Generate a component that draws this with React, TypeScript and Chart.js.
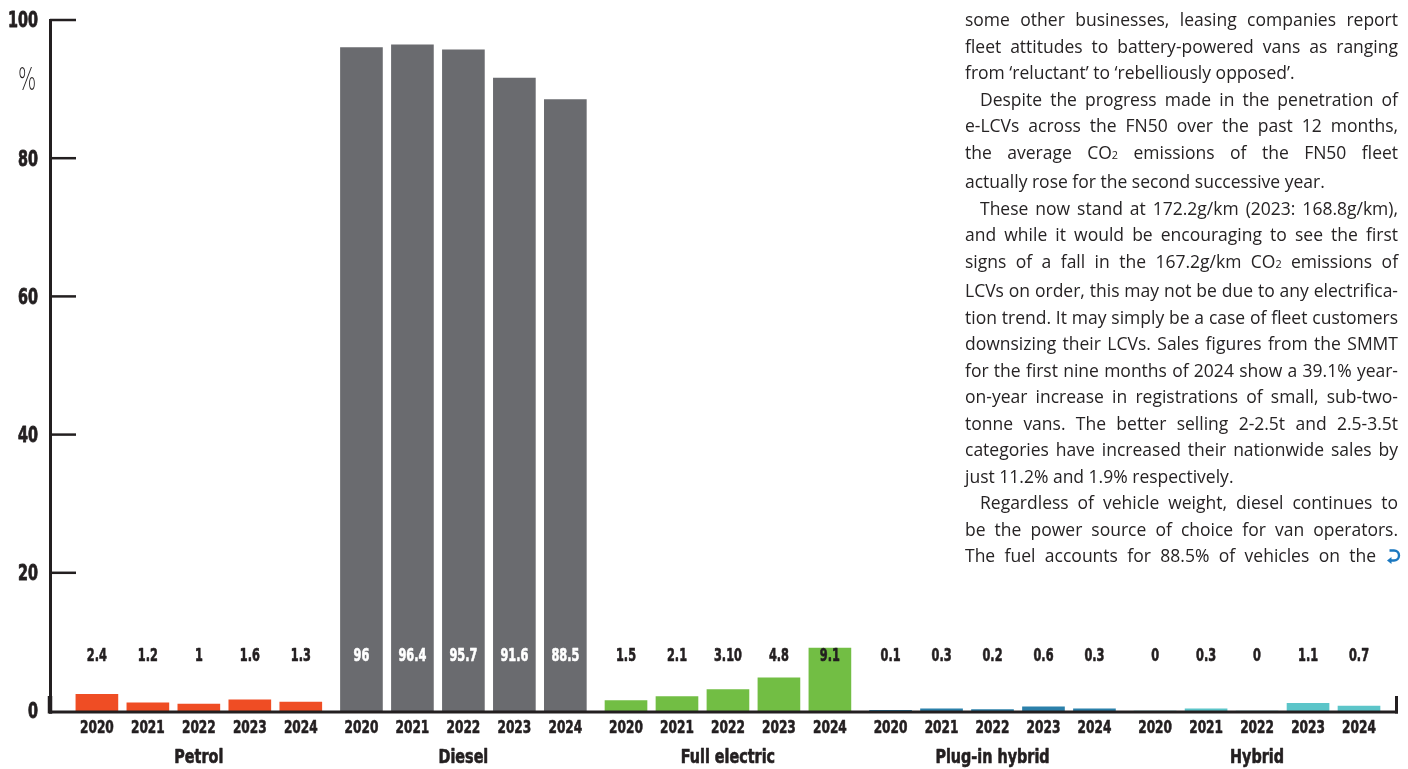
import React, { useEffect, useMemo, useRef } from "react";
import { Chart, registerables } from "chart.js";

Chart.register(...registerables);

// ---- data ----
const years = ["2020", "2021", "2022", "2023", "2024"];
const fuelTypes = ["Petrol", "Diesel", "Full electric", "Plug-in hybrid", "Hybrid"];
const petrolLabels = ["2.4", "1.2", "1", "1.6", "1.3"];
const dieselLabels = ["96", "96.4", "95.7", "91.6", "88.5"];
const fullElectricLabels = ["1.5", "2.1", "3.10", "4.8", "9.1"];
const plugInHybridLabels = ["0.1", "0.3", "0.2", "0.6", "0.3"];
const hybridLabels = ["0", "0.3", "0", "1.1", "0.7"];
const yTicks = [0, 20, 40, 60, 80, 100];

const valueLabels = [petrolLabels, dieselLabels, fullElectricLabels, plugInHybridLabels, hybridLabels];
const fuelColours = ["#ef4d24", "#6a6b6f", "#72be44", "#2b80aa", "#5cc5c9"];

// ---- layout constants ----
const INK = "#231f20";
const COND = '"DejaVu Sans Condensed", "DejaVu Sans", sans-serif';
const GROUP_STEP = 5.19; // slot distance between the first bars of neighbouring groups
const X_MIN = -0.92;
const X_MAX = 4 * GROUP_STEP + 4 + 0.765;

const slot = (g: number, i: number) => g * GROUP_STEP + i;
const barSlots = fuelTypes.flatMap((_, g) => years.map((__, i) => slot(g, i)));
const groupCentres = fuelTypes.map((_, g) => slot(g, 2));

// draws narrow headline-style text by squeezing the glyphs horizontally
function squeezed(
  ctx: CanvasRenderingContext2D,
  text: string,
  x: number,
  y: number,
  font: string,
  sx: number,
  align: CanvasTextAlign,
  colour: string,
  weight = 0.6
) {
  ctx.save();
  ctx.font = font;
  ctx.fillStyle = colour;
  ctx.strokeStyle = colour;
  ctx.lineWidth = weight;
  ctx.lineJoin = "round";
  ctx.textAlign = align;
  ctx.textBaseline = "middle";
  ctx.translate(x, y);
  ctx.scale(sx, 1);
  ctx.fillText(text, 0, 0);
  if (weight > 0) ctx.strokeText(text, 0, 0);
  ctx.restore();
}

const decorations = {
  id: "decorations",
  afterDatasetsDraw(chart: any) {
    const { ctx, chartArea, scales } = chart;
    const { left, right, top, bottom } = chartArea;
    const y = scales.y;
    const x = scales.x;
    ctx.save();
    ctx.strokeStyle = INK;
    ctx.lineCap = "butt";

    // vertical axis
    ctx.lineWidth = 3;
    ctx.beginPath();
    ctx.moveTo(left + 0.5, top - 1);
    ctx.lineTo(left + 0.5, bottom + 2.5);
    ctx.stroke();

    // inward tick marks
    ctx.lineWidth = 2.5;
    y.ticks.forEach((t: any) => {
      if (t.value === 0) return;
      const py = y.getPixelForValue(t.value);
      ctx.beginPath();
      ctx.moveTo(left, py);
      ctx.lineTo(left + 26, py);
      ctx.stroke();
    });

    // baseline
    ctx.lineWidth = 3;
    ctx.beginPath();
    ctx.moveTo(left - 1, bottom + 1);
    ctx.lineTo(right, bottom + 1);
    ctx.stroke();

    // end caps
    ctx.beginPath();
    ctx.moveTo(right - 1.5, bottom - 15);
    ctx.lineTo(right - 1.5, bottom + 2.5);
    ctx.stroke();
    ctx.lineWidth = 4.5;
    ctx.beginPath();
    ctx.moveTo(left, bottom - 15);
    ctx.lineTo(left, bottom + 2.5);
    ctx.stroke();
    ctx.restore();

    // y tick labels
    y.ticks.forEach((t: any) => {
      squeezed(ctx, String(t.value), left - 12, y.getPixelForValue(t.value) + 2, `bold 21px ${COND}`, 0.76, "right", INK, 0.8);
    });

    // unit
    squeezed(ctx, "%", left - 23, top + 62, `200 32px "DejaVu Sans", sans-serif`, 0.6, "center", INK, 0);

    // year labels
    x.ticks.forEach((t: any, i: number) => {
      squeezed(ctx, years[i % years.length], x.getPixelForValue(t.value), bottom + 17, `bold 18px ${COND}`, 0.75, "center", INK);
    });

    // fuel type labels
    groupCentres.forEach((v, g) => {
      squeezed(ctx, fuelTypes[g], x.getPixelForValue(v), bottom + 47, `bold 19px ${COND}`, 0.84, "center", INK);
    });

    // value labels
    chart.data.datasets.forEach((_: any, di: number) => {
      const meta = chart.getDatasetMeta(di);
      meta.data.forEach((bar: any, i: number) => {
        squeezed(ctx, valueLabels[di][i], bar.x, bottom - 54, `bold 17px ${COND}`, 0.74, "center", di === 1 ? "#ffffff" : INK);
      });
    });
  },
};

function FleetChart() {
  const ref = useRef<HTMLCanvasElement | null>(null);

  useEffect(() => {
    if (!ref.current) return;
    const datasets = valueLabels.map((labels, g) => ({
      label: fuelTypes[g],
      data: labels.map((l, i) => ({ x: slot(g, i), y: Number(l) })),
      backgroundColor: fuelColours[g],
      borderWidth: 0,
      barThickness: 42,
      grouped: false,
    }));

    const chart = new Chart(ref.current, {
      type: "bar",
      data: { datasets },
      plugins: [decorations],
      options: {
        animation: false,
        responsive: false,
        devicePixelRatio: 1,
        layout: { padding: { top: 20, right: 10, left: 0, bottom: 0 } },
        plugins: { legend: { display: false }, tooltip: { enabled: false } },
        scales: {
          x: {
            type: "linear",
            min: X_MIN,
            max: X_MAX,
            offset: false,
            grid: { display: false, drawTicks: false },
            border: { display: false },
            ticks: { display: false, autoSkip: false },
            afterBuildTicks: (s: any) => {
              s.ticks = barSlots.map((v) => ({ value: v }));
            },
            afterFit: (s: any) => {
              s.height = 58;
            },
          },
          y: {
            min: 0,
            max: 100,
            grid: { display: false, drawTicks: false },
            border: { display: false },
            ticks: { display: false },
            afterBuildTicks: (s: any) => {
              s.ticks = yTicks.map((v) => ({ value: v }));
            },
            afterFit: (s: any) => {
              s.width = 50;
            },
          },
        },
      } as any,
    });
    return () => chart.destroy();
  }, []);

  return <canvas ref={ref} width={1408} height={769} style={{ display: "block" }} />;
}

// ---- article column ----
type Line = { text: string; indent?: boolean; last?: boolean; arrow?: boolean };

const articleLines: Line[] = [
  { text: "some other businesses, leasing companies report" },
  { text: "fleet attitudes to battery-powered vans as ranging" },
  { text: "from \u2018reluctant\u2019 to \u2018rebelliously opposed\u2019.", last: true },
  { text: "Despite the progress made in the penetration of", indent: true },
  { text: "e-LCVs across the FN50 over the past 12 months," },
  { text: "the average CO{2} emissions of the FN50 fleet" },
  { text: "actually rose for the second successive year.", last: true },
  { text: "These now stand at 172.2g/km (2023: 168.8g/km),", indent: true },
  { text: "and while it would be encouraging to see the first" },
  { text: "signs of a fall in the 167.2g/km CO{2} emissions of" },
  { text: "LCVs on order, this may not be due to any electrifica-" },
  { text: "tion trend. It may simply be a case of fleet customers" },
  { text: "downsizing their LCVs. Sales figures from the SMMT" },
  { text: "for the first nine months of 2024 show a 39.1% year-" },
  { text: "on-year increase in registrations of small, sub-two-" },
  { text: "tonne vans. The better selling 2-2.5t and 2.5-3.5t" },
  { text: "categories have increased their nationwide sales by" },
  { text: "just 11.2% and 1.9% respectively.", last: true },
  { text: "Regardless of vehicle weight, diesel continues to", indent: true },
  { text: "be the power source of choice for van operators." },
  { text: "The fuel accounts for 88.5% of vehicles on the", arrow: true },
];

const TEXT_FONT = '"Open Sans", sans-serif';
const TEXT_SIZE = 17.5;
const SUB_SCALE = 0.62;
const COLUMN_WIDTH = 433;
const INDENT = 15;
const ARROW_W = 17;

function splitSegments(text: string) {
  return text.split(/\{(.+?)\}/).map((t, i) => ({ t, small: i % 2 === 1 }));
}

function Article() {
  const layout = useMemo(() => {
    const ctx = document.createElement("canvas").getContext("2d")!;
    return articleLines.map((line) => {
      const segs = splitSegments(line.text);
      let w = 0;
      let chars = 0;
      segs.forEach((s) => {
        ctx.font = `400 ${s.small ? TEXT_SIZE * SUB_SCALE : TEXT_SIZE}px ${TEXT_FONT}`;
        w += ctx.measureText(s.t).width;
        chars += s.t.length;
      });
      const target = COLUMN_WIDTH - (line.indent ? INDENT : 0) - (line.arrow ? ARROW_W : 0);
      const spaces = (line.text.match(/ /g) || []).length + (line.arrow ? 1 : 0);
      let wordSpacing = 0;
      let letterSpacing = 0;
      if (!line.last && spaces > 0) {
        const extra = target - w;
        if (extra >= -1.2 * spaces) {
          wordSpacing = extra / spaces;
        } else {
          wordSpacing = -1.2;
          letterSpacing = (extra + 1.2 * spaces) / chars;
        }
      }
      return { segs, wordSpacing, letterSpacing };
    });
  }, []);

  return (
    <div
      style={{
        position: "absolute",
        left: 965,
        top: 6,
        width: COLUMN_WIDTH,
        fontFamily: TEXT_FONT,
        fontSize: TEXT_SIZE,
        lineHeight: "26.5px",
        color: "#262324",
      }}
    >
      {articleLines.map((line, li) => (
        <div
          key={li}
          style={{
            whiteSpace: "nowrap",
            paddingLeft: line.indent ? INDENT : 0,
            wordSpacing: `${layout[li].wordSpacing}px`,
            letterSpacing: `${layout[li].letterSpacing}px`,
          }}
        >
          {layout[li].segs.map((s, si) =>
            s.small ? (
              <span key={si} style={{ fontSize: TEXT_SIZE * SUB_SCALE }}>
                {s.t}
              </span>
            ) : (
              <span key={si}>{s.t}</span>
            )
          )}
          {line.arrow ? (
            <>
              {" "}
              <svg width={16} height={16} viewBox="0 0 16 16" style={{ verticalAlign: "-2px" }}>
                <path
                  d="M3.5 2.5 H8 A5 5 0 0 1 8 12.5 H4"
                  fill="none"
                  stroke="#1b78c0"
                  strokeWidth={2.4}
                />
                <path d="M1 12.5 L5.5 9 L5.5 16 Z" fill="#1b78c0" />
              </svg>
            </>
          ) : null}
        </div>
      ))}
    </div>
  );
}

export default function App() {
  return (
    <div
      style={{
        position: "fixed",
        left: 0,
        top: 0,
        width: 1408,
        height: 769,
        background: "#ffffff",
        overflow: "hidden",
      }}
    >
      <FleetChart />
      <Article />
    </div>
  );
}
